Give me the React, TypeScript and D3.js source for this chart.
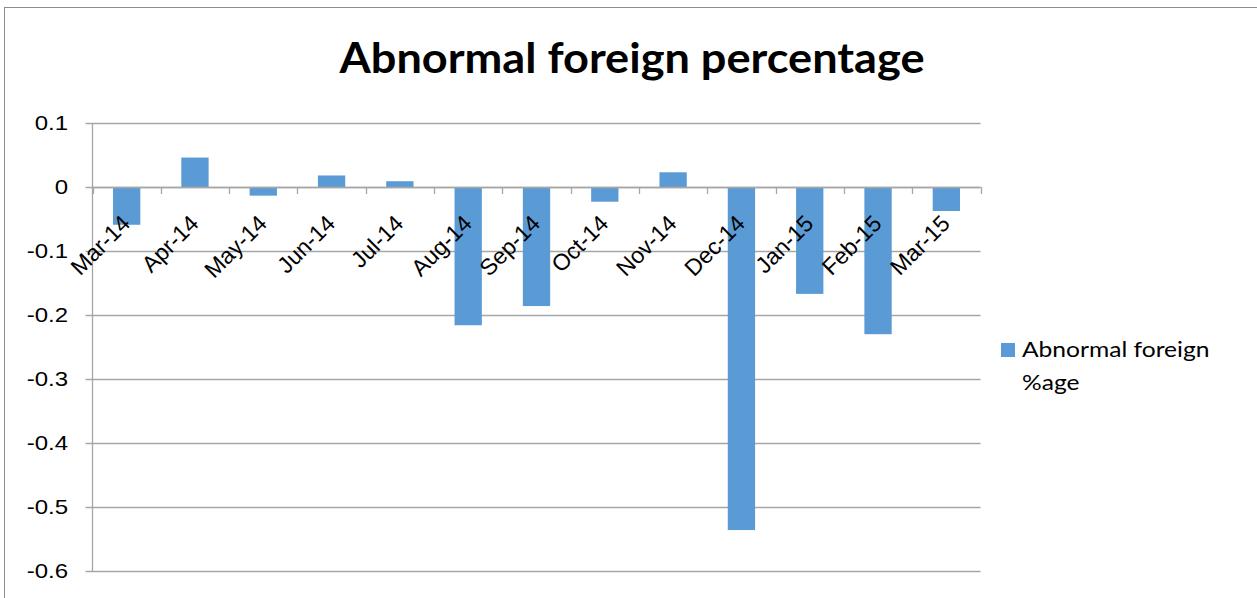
import React from "react";
import * as d3 from "d3";

const months = [
  "Mar-14", "Apr-14", "May-14", "Jun-14", "Jul-14", "Aug-14", "Sep-14",
  "Oct-14", "Nov-14", "Dec-14", "Jan-15", "Feb-15", "Mar-15",
];
const abnormalForeign = [
  -0.059, 0.046, -0.0135, 0.018, 0.009, -0.216, -0.186,
  -0.023, 0.023, -0.536, -0.167, -0.23, -0.0375,
];
const yTicks = [0.1, 0, -0.1, -0.2, -0.3, -0.4, -0.5, -0.6];
const seriesName = ["Abnormal foreign", "%age"];
const chartTitle = "Abnormal foreign percentage";

const W = 1257;
const H = 598;
const plot = { left: 92.5, right: 980.5, top: 123, bottom: 571 };
const barColor = "#5b9bd5";
const gridColor = "#a6a6a6";
// the reference text looks a bit wide, so horizontal text gets a scale
const sx = 1.2;

const fmt = (t: number) => d3.format(".1~f")(t).replace("\u2212", "-");

export default function App() {
  const x = d3.scaleBand<string>()
    .domain(months)
    .range([plot.left, plot.right])
    .paddingInner(0.6)
    .paddingOuter(0.3);

  const y = d3.scaleLinear()
    .domain([-0.6, 0.1])
    .range([plot.bottom, plot.top]);

  const step = x.step();
  const y0 = y(0);

  return (
    <svg width={W} height={H} style={{ position: "absolute", left: 0, top: 0, background: "#fff" }}>
      {/* chart border */}
      <rect x={4.5} y={7.5} width={W + 10} height={H + 10} fill="none" stroke="#8c8c8c" strokeWidth={1} />

      <text
        x={632}
        y={73}
        textAnchor="middle"
        fontFamily="Lato, 'Open Sans', sans-serif"
        fontWeight="bold"
        fontSize={42}
        textLength={585}
        lengthAdjust="spacingAndGlyphs"
        fill="#000"
      >
        {chartTitle}
      </text>

      {/* gridlines + y labels */}
      {yTicks.map((t) => (
        <g key={t}>
          <line x1={plot.left - 7} x2={plot.right} y1={Math.round(y(t)) + 0.5} y2={Math.round(y(t)) + 0.5} stroke={gridColor} strokeWidth={1.3} />
          <text
            transform={`translate(68, ${y(t)}) scale(${sx}, 1)`}
            dy="0.36em"
            textAnchor="end"
            fontFamily="'Liberation Sans', Arial, sans-serif"
            fontSize={20}
            fill="#000"
          >
            {fmt(t)}
          </text>
        </g>
      ))}

      {/* y axis line */}
      <line x1={plot.left} x2={plot.left} y1={plot.top} y2={plot.bottom} stroke={gridColor} strokeWidth={1.3} />

      {/* bars */}
      {months.map((m, i) => {
        const v = abnormalForeign[i];
        return (
          <rect
            key={m}
            x={x(m)}
            y={Math.min(y(v), y0)}
            width={x.bandwidth()}
            height={Math.abs(y(v) - y0)}
            fill={barColor}
          />
        );
      })}

      {/* category ticks on zero axis */}
      {d3.range(months.length + 1).map((i) => {
        const tx = Math.round(plot.left + i * step) + 0.5;
        return <line key={i} x1={tx} x2={tx} y1={y0} y2={y0 + 7} stroke={gridColor} strokeWidth={1.3} />;
      })}
      <line x1={plot.left} x2={plot.right} y1={Math.round(y0) + 0.5} y2={Math.round(y0) + 0.5} stroke={gridColor} strokeWidth={1.3} />

      {/* category labels */}
      {months.map((m) => {
        const cx = (x(m) ?? 0) + x.bandwidth() / 2 + 5;
        const cy = 225;
        return (
          <text
            key={m}
            transform={`translate(${cx}, ${cy}) rotate(-45)`}
            textAnchor="end"
            fontFamily="'Liberation Sans', Arial, sans-serif"
            fontSize={23}
            fill="#000"
          >
            {m}
          </text>
        );
      })}

      {/* legend */}
      <rect x={1001} y={343} width={14} height={14} fill={barColor} />
      {seriesName.map((s, i) => (
        <text
          key={s}
          transform={`translate(1022, ${357 + i * 33}) scale(${sx}, 1)`}
          fontFamily="Lato, 'Open Sans', sans-serif"
          fontSize={20.5}
          fill="#000"
        >
          {s}
        </text>
      ))}
    </svg>
  );
}
